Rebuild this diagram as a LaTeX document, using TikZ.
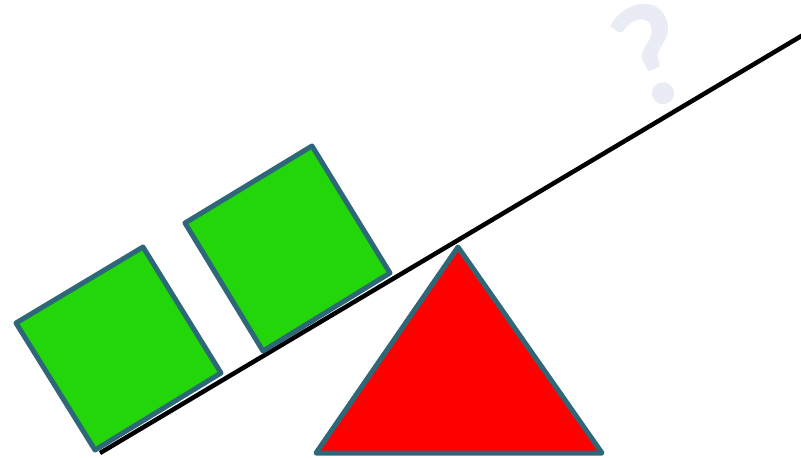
\documentclass[tikz,border=0pt]{standalone}
\usepackage{fontspec}
\newfontfamily\qfont{Carlito}
\definecolor{edgeteal}{HTML}{2E6878}
\definecolor{boxgreen}{HTML}{22D60A}
\definecolor{qgray}{HTML}{E9ECF4}
\begin{document}
\begin{tikzpicture}[x=1pt,y=-1pt,
  blockstyle/.style={draw=edgeteal,fill=boxgreen,line width=5pt,line join=round},
  fulcrum/.style={draw=edgeteal,fill=red,line width=5pt,line join=round},
  plank/.style={draw=black,line width=4.5pt}]
\useasboundingbox (0,0) rectangle (801,458);
% question mark
\node[text=qgray,font=\qfont\bfseries\fontsize{148}{148}\selectfont,rotate=22,inner sep=0pt] (qm) at (651,55) {?};
% plank
\coordinate (pa) at (100,453);
\coordinate (pb) at (803,35);
\draw[plank] (pa) -- (pb);
% fulcrum
\coordinate (t1) at (458,247);
\coordinate (t2) at (316,453);
\coordinate (t3) at (602,453);
\draw[fulcrum] (t1) -- (t2) -- (t3) -- cycle;
% blocks
\coordinate (a1) at (16,323);
\coordinate (a2) at (143,247);
\coordinate (a3) at (221,373);
\coordinate (a4) at (95,450);
\draw[blockstyle] (a1) -- (a2) -- (a3) -- (a4) -- cycle;
\coordinate (b1) at (185,223);
\coordinate (b2) at (312,146);
\coordinate (b3) at (390,273);
\coordinate (b4) at (263,351);
\draw[blockstyle] (b1) -- (b2) -- (b3) -- (b4) -- cycle;
\end{tikzpicture}
\end{document}
